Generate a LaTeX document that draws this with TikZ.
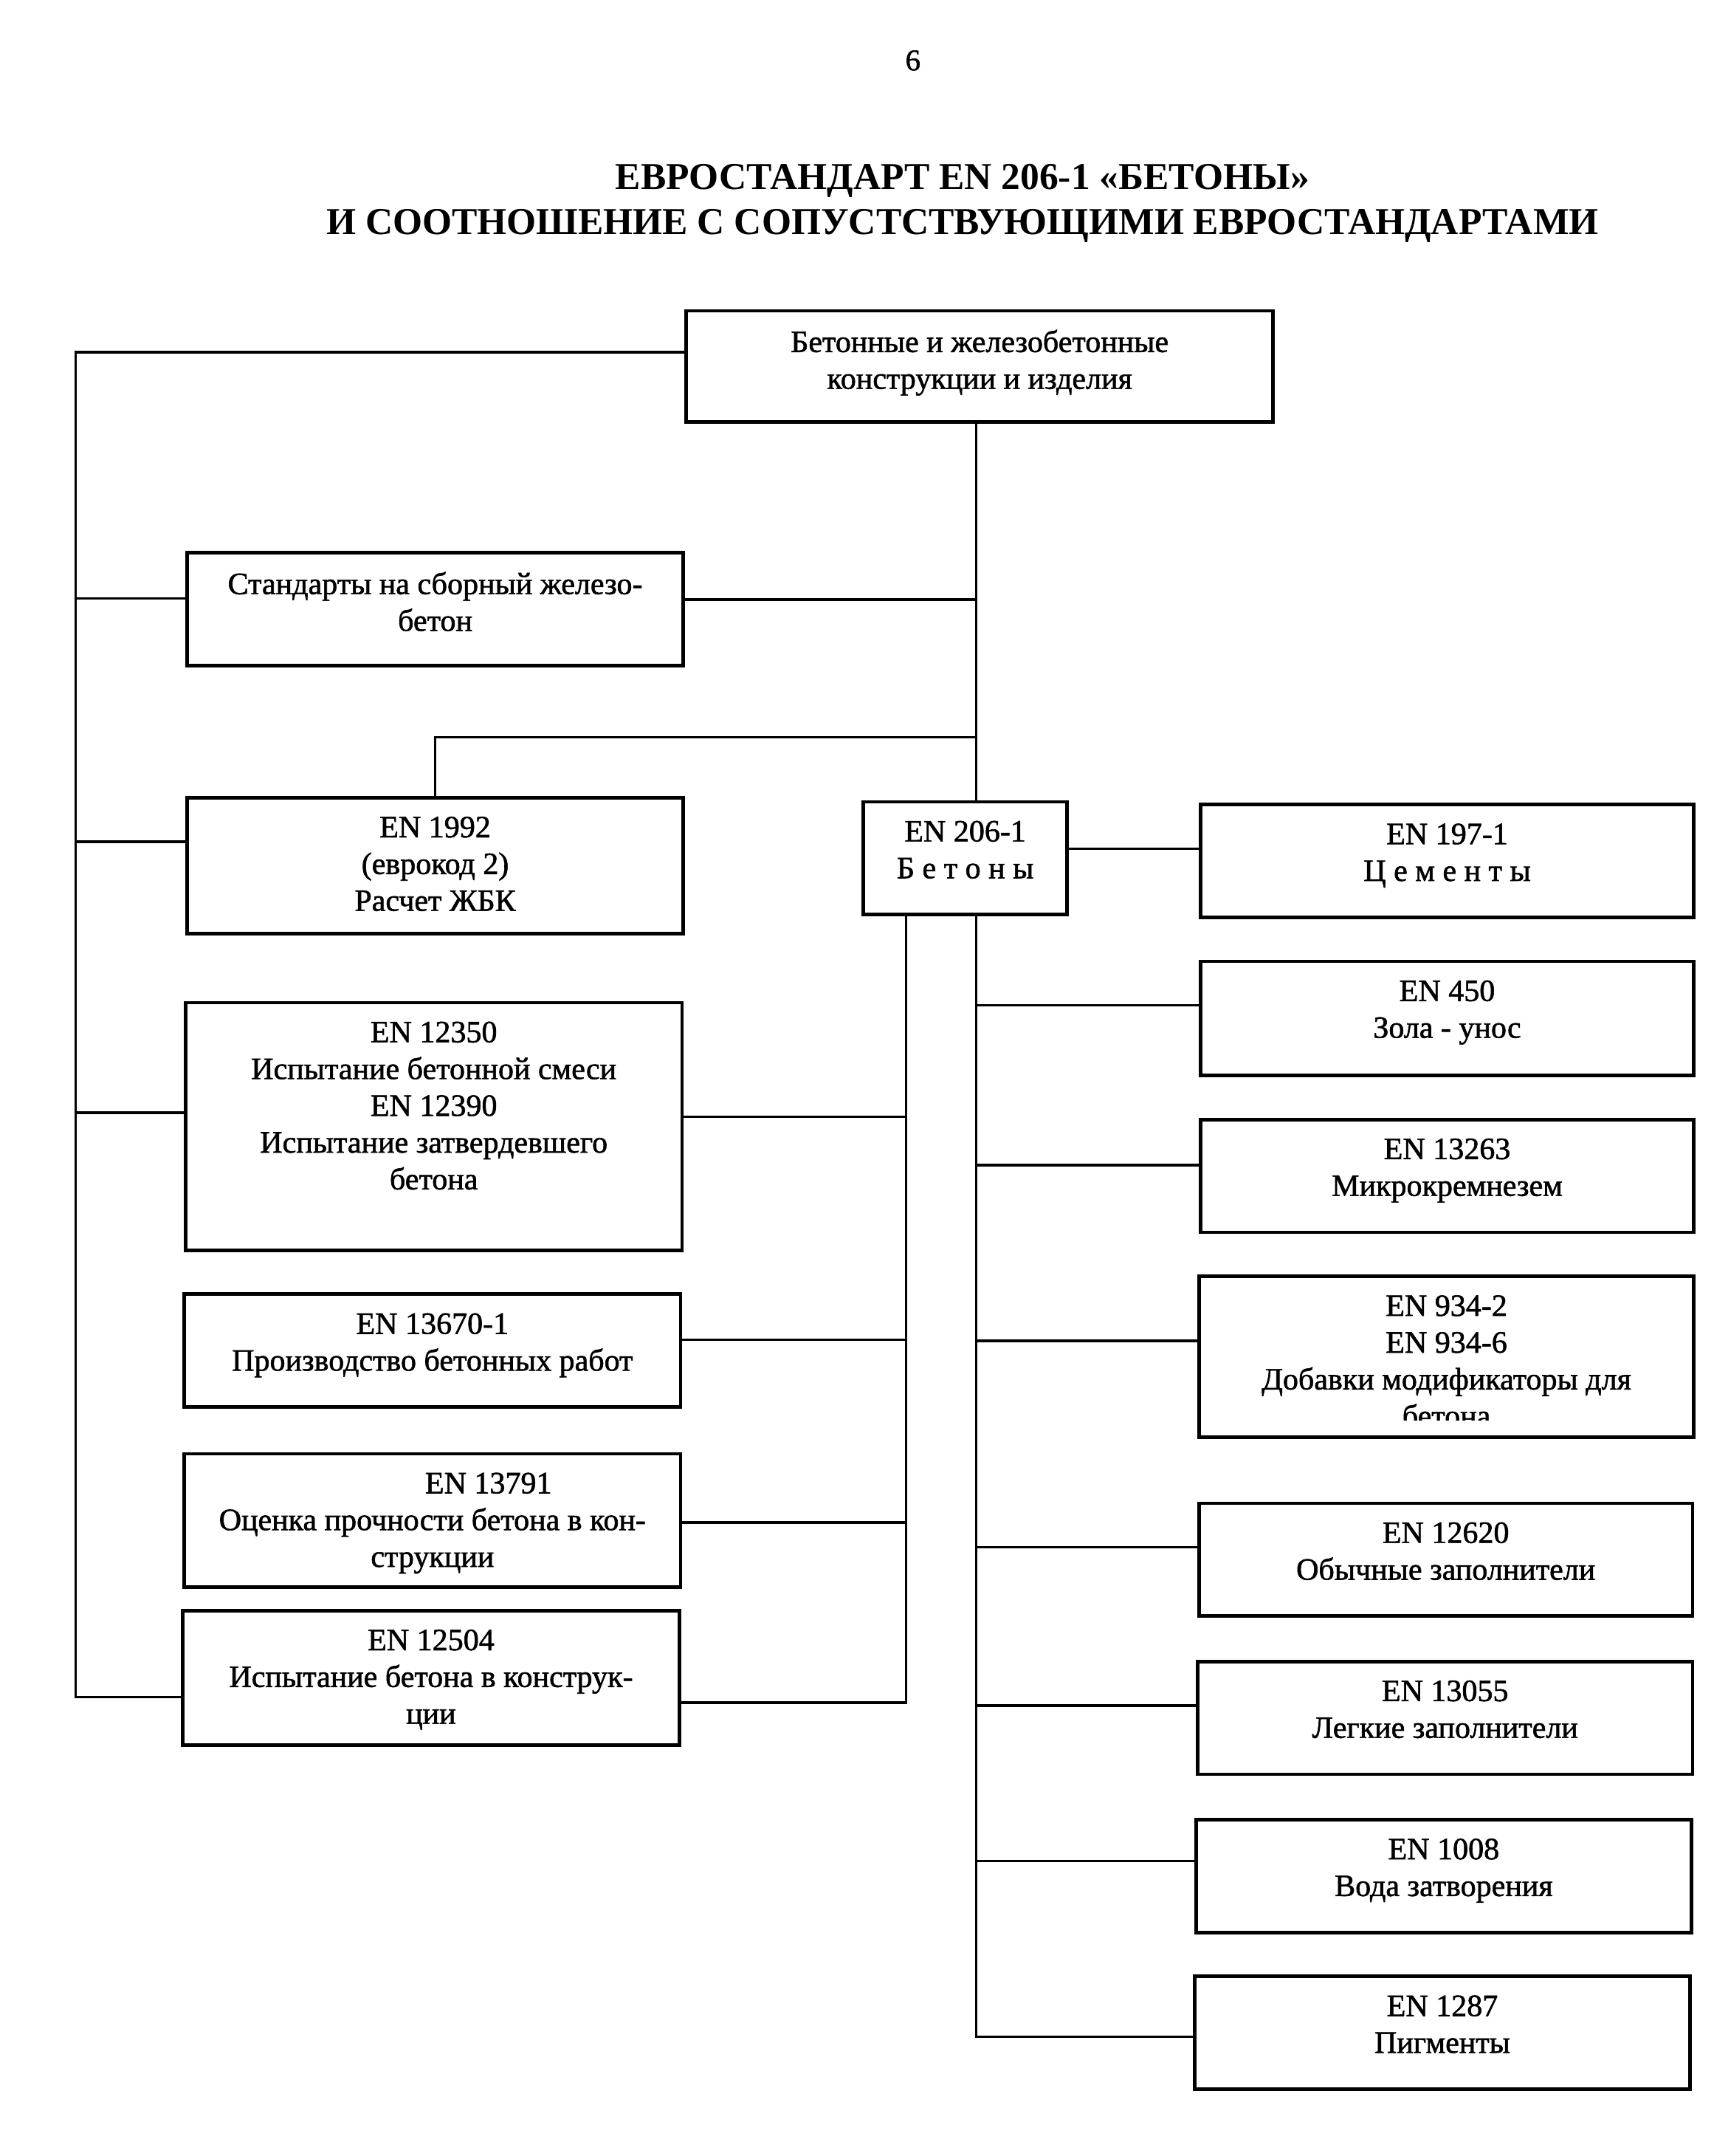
\documentclass[tikz,border=0pt]{standalone}
\usepackage{fontspec}
\setmainfont{Liberation Serif}
\newfontfamily\bodyfont[FakeBold=1.4]{Liberation Serif}
\usetikzlibrary{fit,calc}
\newcommand\mybox[6]{%
  \node[box, fit={(#2,#3)(#4,#5)}] (#1) {};
  \node[txt] (#1t) at ([yshift=-15pt]#1.north) {#6};}
\begin{document}
\begin{tikzpicture}[x=1.006pt,y=-1.006pt,
  box/.style={draw, line width=2.6pt, inner sep=0pt},
  txt/.style={anchor=north, align=center, inner sep=0pt, font=\bodyfont\fontsize{22.7}{26.9}\selectfont},
  conn/.style={line width=1.9pt}]
\useasboundingbox (0pt,0pt) rectangle (1254pt,-1577pt);
\node[font=\bodyfont\fontsize{22}{26}\selectfont] (pg) at (664,44) {6};
\node[font=\bfseries\fontsize{27.8}{33}\selectfont, align=center] (title) at (700,148)
  {ЕВРОСТАНДАРТ EN 206-1 «БЕТОНЫ»\\И СООТНОШЕНИЕ С СОПУСТСТВУЮЩИМИ ЕВРОСТАНДАРТАМИ};

\mybox{b1}{499}{226}{926}{307}{Бетонные и железобетонные\\конструкции и изделия}
\mybox{b2}{136}{402}{497}{484}{Стандарты на сборный железо-\\бетон}
\mybox{b3}{136}{580}{497}{679}{EN 1992\\(еврокод 2)\\Расчет ЖБК}
\mybox{b4}{628}{583}{776}{665}{EN 206-1\\Б е т о н ы}
\mybox{b5}{873}{585}{1232}{667}{EN 197-1\\Ц е м е н т ы}
\mybox{b6}{135}{729}{496}{909}{EN 12350\\Испытание бетонной смеси\\EN 12390\\Испытание затвердевшего\\бетона}
\mybox{b7}{134}{941}{495}{1023}{EN 13670-1\\Производство бетонных работ}
\mybox{b8}{134}{1057}{495}{1154}{\hspace*{82pt}EN 13791\\Оценка прочности бетона в кон-\\струкции}
\mybox{b9}{133}{1171}{494}{1269}{EN 12504\\Испытание бетона в конструк-\\ции}
\mybox{b10}{873}{699}{1232}{782}{EN 450\\Зола - унос}
\mybox{b11}{873}{814}{1232}{896}{EN 13263\\Микрокремнезем}
\node[box, fit={(872,928)(1232,1045)}] (b12) {};
\begin{scope}
  \clip ([xshift=2pt,yshift=-2pt]b12.north west) rectangle ([xshift=-2pt,yshift=14pt]b12.south east);
  \node[txt] (b12t) at ([yshift=-15pt]b12.north) {EN 934-2\\EN 934-6\\Добавки модификаторы для\\бетона};
\end{scope}
\mybox{b13}{872}{1093}{1231}{1175}{EN 12620\\Обычные заполнители}
\mybox{b14}{871}{1208}{1231}{1290}{EN 13055\\Легкие заполнители}
\mybox{b15}{870}{1323}{1230}{1405}{EN 1008\\Вода затворения}
\mybox{b16}{869}{1437}{1229}{1519}{EN 1287\\Пигменты}

% left spine
\coordinate (Ltop) at (55,256);
\coordinate (Lbot) at (55,1234);
\coordinate (jL2) at (55,435);
\coordinate (jL3) at (55,612);
\coordinate (jL6) at (55,809);
\draw[conn] (b1.west |- Ltop) -- (Ltop) -- (Lbot) -- (b9.west |- Lbot);
\draw[conn] (jL2) -- (b2.west |- jL2);
\draw[conn] (jL3) -- (b3.west |- jL3);
\draw[conn] (jL6) -- (b6.west |- jL6);

% centre spine
\coordinate (cTop) at (710,307);
\coordinate (cB2) at (710,436);
\coordinate (cE) at (710,536);
\draw[conn] (b1.south -| cTop) -- (b4.north -| cTop);
\draw[conn] (cB2) -- (b2.east |- cB2);
\draw[conn] (cE) -- (b3.north |- cE) -- (b3.north);
\coordinate (r197) at (776,617);
\draw[conn] (b4.east |- r197) -- (b5.west |- r197);

% spine to left boxes
\coordinate (sAb) at (659,1238);
\coordinate (sA6) at (659,812);
\coordinate (sA7) at (659,974);
\coordinate (sA8) at (659,1107);
\draw[conn] (b4.south -| sAb) -- (sAb) -- (b9.east |- sAb);
\draw[conn] (sA6) -- (b6.east |- sA6);
\draw[conn] (sA7) -- (b7.east |- sA7);
\draw[conn] (sA8) -- (b8.east |- sA8);

% spine to right boxes
\coordinate (sBb) at (710,1481);
\coordinate (sB10) at (710,731);
\coordinate (sB11) at (710,847);
\coordinate (sB12) at (710,975);
\coordinate (sB13) at (710,1125);
\coordinate (sB14) at (710,1240);
\coordinate (sB15) at (710,1353);
\draw[conn] (b4.south -| sBb) -- (sBb) -- (b16.west |- sBb);
\draw[conn] (sB10) -- (b10.west |- sB10);
\draw[conn] (sB11) -- (b11.west |- sB11);
\draw[conn] (sB12) -- (b12.west |- sB12);
\draw[conn] (sB13) -- (b13.west |- sB13);
\draw[conn] (sB14) -- (b14.west |- sB14);
\draw[conn] (sB15) -- (b15.west |- sB15);
\end{tikzpicture}
\end{document}
